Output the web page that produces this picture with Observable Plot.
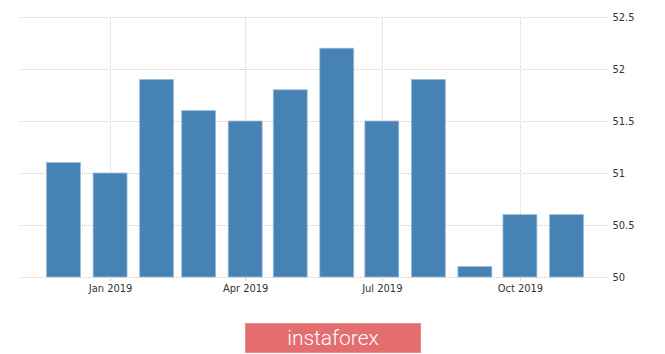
<!DOCTYPE html>
<html>
<head>
<meta charset="utf-8">
<script src="https://cdn.jsdelivr.net/npm/d3@7"></script>
<script src="https://cdn.jsdelivr.net/npm/@observablehq/plot@0.6"></script>
<style>
  html, body { margin: 0; padding: 0; background: #fff; }
  #wrap { position: relative; width: 665px; height: 354px; overflow: hidden; }
  #logo { position: absolute; left: 245px; top: 323px; width: 176px; height: 30px;
    background: #e36d6f; color: #fff; font-family: Roboto, "Open Sans", sans-serif; font-weight: 300;
    font-size: 21px; line-height: 29px; text-align: center; box-sizing: border-box; border: 1px solid #e58c8e; }
</style>
</head>
<body>
<div id="wrap"><div id="chart"></div><div id="logo">instaforex</div></div>
<script>
const months = ["2018-12-01","2019-01-01","2019-02-01","2019-03-01","2019-04-01","2019-05-01","2019-06-01","2019-07-01","2019-08-01","2019-09-01","2019-10-01","2019-11-01"];
const values = [51.1, 51.0, 51.9, 51.6, 51.5, 51.8, 52.2, 51.5, 51.9, 50.1, 50.6, 50.6];
const yTicks = [50, 50.5, 51, 51.5, 52, 52.5];
const xTicks = ["2019-01-01","2019-04-01","2019-07-01","2019-10-01"];
const xDomain = ["2018-11-02","2019-11-28"];

const DAY = 86400000;
const halfBar = 11.3 * DAY;
const data = months.map((m, i) => {
  const d = new Date(m);
  return { date: d, x1: new Date(+d - halfBar), x2: new Date(+d + halfBar), value: values[i] };
});
const xt = xTicks.map(s => new Date(s));

const chart = Plot.plot({
  width: 665,
  height: 300,
  marginTop: 17,
  marginBottom: 23,
  marginLeft: 20,
  marginRight: 58,
  style: { fontFamily: "'DejaVu Sans Condensed', 'DejaVu Sans', sans-serif", fontSize: "11px", color: "#333", background: "#fff" },
  x: { type: "utc", domain: xDomain.map(s => new Date(s)) },
  y: { domain: [50, 52.5] },
  marks: [
    Plot.gridY(yTicks, { stroke: "#cfcfcf", strokeOpacity: 1, strokeDasharray: "1,1" }),
    Plot.gridX(xt, { stroke: "#cfcfcf", strokeOpacity: 1, strokeDasharray: "1,1" }),
    Plot.rectY(data, { x1: "x1", x2: "x2", y1: 50, y2: "value", fill: "#4682b4", stroke: "#9dbcd8", strokeWidth: 0.8 }),
    Plot.axisY(yTicks, { anchor: "right", tickSize: 0, tickPadding: 5, tickFormat: d => String(d), label: null, fill: "#333" }),
    Plot.axisX(xt, { anchor: "bottom", tickSize: 4, tickPadding: 3, stroke: "#cfcfcf", tickFormat: d3.utcFormat("%b %Y"), label: null, fill: "#333" })
  ]
});
document.getElementById("chart").appendChild(chart);
</script>
</body>
</html>
